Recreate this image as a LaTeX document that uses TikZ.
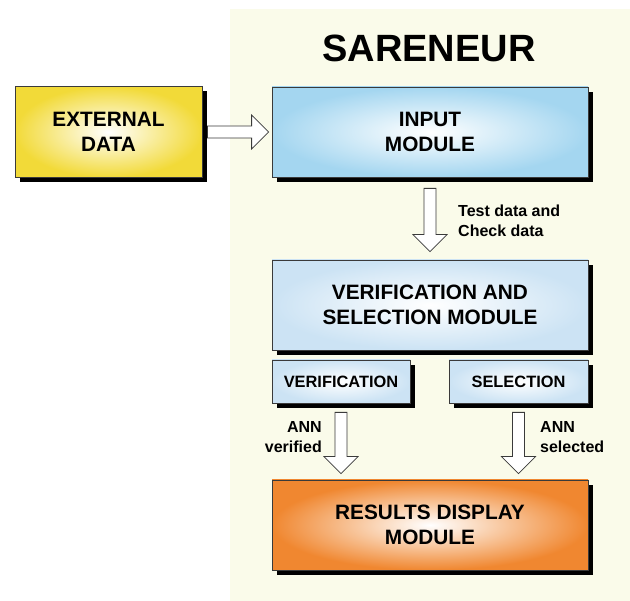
\documentclass[tikz,border=0pt]{standalone}
\usepackage{fontspec}
\setmainfont{Liberation Sans}
\usetikzlibrary{positioning, calc, shadows}

\definecolor{panelbg}{HTML}{FAFBEA}
\definecolor{extyellow}{HTML}{F2DA38}
\definecolor{inblue}{HTML}{A4D6F0}
\definecolor{paleblue}{HTML}{CCE3F4}
\definecolor{resorange}{HTML}{F08730}
\definecolor{edgegray}{HTML}{3A3A3A}

\tikzset{
    fat gap a/.initial=0pt,
    fat gap b/.initial=0pt,
    fat arrow/.style={
        draw=edgegray, fill=white, line width=0.8pt,
        to path={
            let \p1=($(\tikztostart)!\pgfkeysvalueof{/tikz/fat gap a}!(\tikztotarget)$),
                \p2=($(\tikztotarget)!\pgfkeysvalueof{/tikz/fat gap b}!(\tikztostart)$),
                \p3=($(\p2)!17pt!(\p1)$) in
            ($(\p1)!6pt!90:(\p2)$) -- ($(\p3)!6pt!90:(\p2)$) -- ($(\p3)!17pt!90:(\p2)$) -- (\p2)
            -- ($(\p3)!17pt!-90:(\p2)$) -- ($(\p3)!6pt!-90:(\p2)$) -- ($(\p1)!6pt!-90:(\p2)$) -- cycle
        }
    },
}
\tikzset{module/.style={draw=edgegray, line width=0.8pt, inner sep=0pt,
    minimum width=316pt, minimum height=90pt, align=center,
    font=\fontsize{20.8}{25}\selectfont\bfseries,
    drop shadow={shadow xshift=5pt, shadow yshift=-5pt, fill=black, opacity=1}}}
\tikzset{subbox/.style={module, minimum width=138pt, minimum height=43pt,
    font=\fontsize{16.4}{19}\selectfont\bfseries}}
\tikzset{note/.style={inner sep=0pt, font=\fontsize{16}{20}\selectfont\bfseries}}

\begin{document}
\begin{tikzpicture}[x=1pt, y=-1pt]

    \useasboundingbox (0,0) rectangle (630,601);
    \fill[panelbg] (230,9) rectangle (630,601);

    \node[font=\fontsize{38}{40}\selectfont\bfseries] (title) at (429,48) {SARENEUR};

    \node[module, minimum width=187pt, minimum height=91pt, inner color=white, outer color=extyellow]
        (ext) at (108.5,132) {EXTERNAL\\DATA};
    \node[module, inner color=white, outer color=inblue] (input) at (430,132) {INPUT\\MODULE};
    \node[module, inner color=white, outer color=paleblue] (verif) at ($(input)+(0,173)$)
        {VERIFICATION AND\\SELECTION MODULE};

    \node[subbox, inner color=white, outer color=paleblue] (verification) at (341,381.5) {VERIFICATION};
    \node[subbox, minimum width=139pt, inner color=white, outer color=paleblue]
        (selection) at (518.5,381.5) {SELECTION};

    \node[module, inner color=white, outer color=resorange] (results) at ($(verif)+(0,220)$)
        {RESULTS DISPLAY\\MODULE};

    \node[note, anchor=west, align=left] (testlbl) at (458,221) {Test data and\\Check data};
    \node[note, anchor=east, align=right] (annver) at (322,437) {ANN\\verified};
    \node[note, anchor=west, align=left] (annsel) at (540,437) {ANN\\selected};

    % block arrows
    \coordinate (vertip) at (verification.south |- results.north);
    \coordinate (seltip) at (selection.south |- results.north);
    \draw[fat arrow, fat gap a=5pt, fat gap b=3pt] (ext.east) to (input.west);
    \draw[fat arrow, fat gap a=11pt, fat gap b=8pt] (input.south) to (verif.north);
    \draw[fat arrow, fat gap a=9pt, fat gap b=6pt] (verification.south) to (vertip);
    \draw[fat arrow, fat gap a=9pt, fat gap b=6pt] (selection.south) to (seltip);

\end{tikzpicture}
\end{document}
